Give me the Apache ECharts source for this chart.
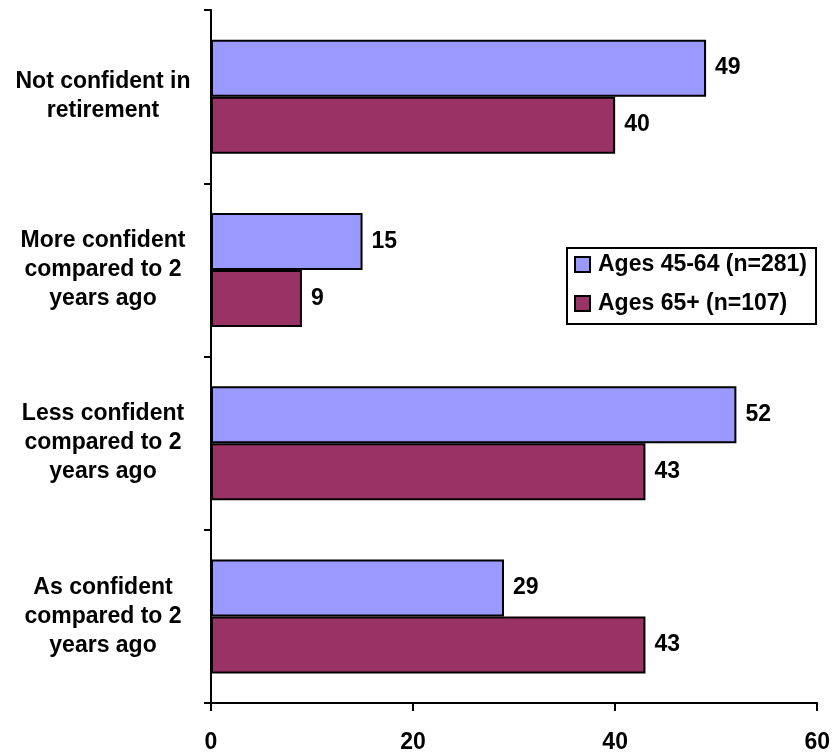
<!DOCTYPE html>
<html>
<head>
<meta charset="utf-8">
<script src="https://cdn.jsdelivr.net/npm/echarts@6/dist/echarts.min.js"></script>
<style>
  html, body { margin: 0; padding: 0; background: #fff; }
  #chart { width: 833px; height: 754px; }
</style>
</head>
<body>
<div id="chart"></div>
<script>
const categories = [
  'Not confident in\nretirement',
  'More confident\ncompared to 2\nyears ago',
  'Less confident\ncompared to 2\nyears ago',
  'As confident\ncompared to 2\nyears ago'
];
const ages45to64 = [49, 15, 52, 29];
const ages65plus = [40, 9, 43, 43];
const seriesNames = ['Ages 45-64 (n=281)', 'Ages 65+ (n=107)'];
const xTicks = [0, 20, 40, 60];

const font = '"Liberation Sans", Arial, sans-serif';

const chart = echarts.init(document.getElementById('chart'));

function barSeries(name, data, color) {
  return {
    name: name,
    type: 'bar',
    data: data,
    barWidth: 57,
    barGap: '0%',
    itemStyle: { color: color, borderColor: '#000', borderWidth: 2 },
    label: {
      show: true,
      position: 'right',
      distance: 9,
      color: '#000',
      fontWeight: 'bold',
      fontSize: 23,
      fontFamily: font
    }
  };
}

chart.setOption({
  animation: false,
  grid: { left: 211, right: 15, top: 10, bottom: 51, containLabel: false },
  legend: {
    orient: 'vertical',
    left: 567,
    top: 248,
    padding: [5, 9, 9, 7],
    itemGap: 16,
    itemWidth: 15,
    itemHeight: 15,
    backgroundColor: '#fff',
    borderColor: '#000',
    borderWidth: 2,
    borderRadius: 0,
    icon: 'rect',
    textStyle: {
      color: '#000',
      fontWeight: 'bold',
      fontSize: 23,
      fontFamily: font,
      padding: [0, 0, 0, 3]
    },
    data: seriesNames
  },
  xAxis: {
    type: 'value',
    min: xTicks[0],
    max: xTicks[xTicks.length - 1],
    interval: xTicks[1] - xTicks[0],
    splitLine: { show: false },
    axisLine: { show: true, lineStyle: { color: '#000', width: 2 } },
    axisTick: { show: true, length: 8, lineStyle: { color: '#000', width: 2 } },
    axisLabel: {
      margin: 28,
      color: '#000',
      fontWeight: 'bold',
      fontSize: 23,
      fontFamily: font
    }
  },
  yAxis: {
    type: 'category',
    inverse: true,
    data: categories,
    axisLine: { show: true, lineStyle: { color: '#000', width: 2 } },
    axisTick: { show: true, length: 7, lineStyle: { color: '#000', width: 2 } },
    axisLabel: {
      align: 'center',
      margin: 108,
      color: '#000',
      fontWeight: 'bold',
      fontSize: 23,
      lineHeight: 29,
      fontFamily: font
    }
  },
  series: [
    barSeries(seriesNames[0], ages45to64, '#9999FF'),
    barSeries(seriesNames[1], ages65plus, '#993366')
  ]
});
</script>
</body>
</html>
